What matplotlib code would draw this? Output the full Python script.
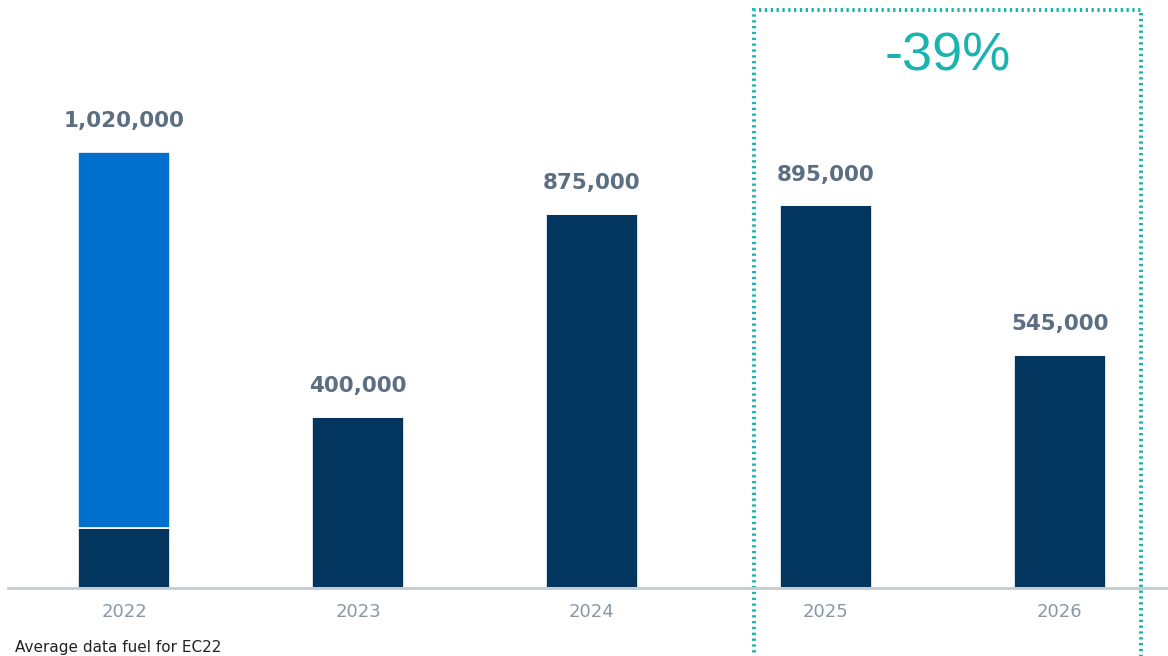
import matplotlib
matplotlib.use('Agg')
import matplotlib.pyplot as plt
from matplotlib.patches import Rectangle

# Annual volumes; 2022 is split into a base part and an extra part
years = ['2022', '2023', '2024', '2025', '2026']
base = [140000, 400000, 875000, 895000, 545000]
extra = [880000, 0, 0, 0, 0]
totals = [b + e for b, e in zip(base, extra)]

NAVY = '#03365f'
BLUE = '#0070cc'
LABEL = '#5b6e82'
TICK = '#8897a8'
TEAL = '#19b3b0'

fig = plt.figure(figsize=(11.68, 6.56), dpi=100)
ax = fig.add_axes([8 / 1168, 68 / 656, 1160 / 1168, 588 / 656])

x = list(range(len(years)))
width = 0.39
ax.bar(x, base, width, color=NAVY, edgecolor='white', linewidth=1.2)
ax.bar(x, extra, width, bottom=base, color=BLUE, edgecolor='white', linewidth=1.2)

# Value labels above each bar
for xi, t in zip(x, totals):
    ax.annotate(f'{t:,}', (xi, t), xytext=(0, 15), textcoords='offset points',
                ha='center', va='bottom', fontsize=15.5, fontweight='bold',
                color=LABEL, family='DejaVu Sans')

ax.set_xlim(-0.496, 4.462)
ax.set_ylim(0, 1375700)

for side in ['top', 'right', 'left']:
    ax.spines[side].set_visible(False)
ax.spines['bottom'].set_color('#c3cbd4')
ax.spines['bottom'].set_linewidth(2)
ax.set_yticks([])
ax.set_xticks(x)
ax.set_xticklabels(years, fontsize=13, color=TICK)
ax.tick_params(axis='x', length=0, pad=11)

# Highlight box around the last two years with the change between them
box_left, box_right = 3 - 0.308, 4 + 0.346
box_top = 1352300
ax.add_patch(Rectangle((box_left, -200000), box_right - box_left, box_top + 200000,
                       fill=False, edgecolor=TEAL, linewidth=2.8, linestyle=(0, (0.6, 0.9)),
                       clip_on=False))
change = round((base[4] / base[3] - 1) * 100)
ax.text((box_left + box_right) / 2, 1243000, f'{change}%', ha='center', va='center',
        fontsize=39, color=TEAL, family='Liberation Sans')

fig.text(15 / 1168, 1 - 640 / 656, 'Average data fuel for EC22', ha='left', va='top',
         fontsize=11, color='#222222')

fig.savefig('out.png', dpi=100)
